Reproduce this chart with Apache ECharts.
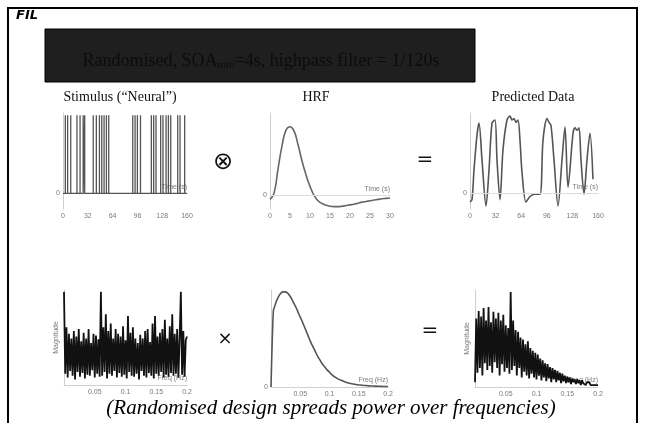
<!DOCTYPE html>
<html>
<head>
<meta charset="utf-8">
<script src="https://cdn.jsdelivr.net/npm/echarts@6/dist/echarts.min.js"></script>
<style>
html, body { margin: 0; padding: 0; background: #fff; }
#chart { width: 645px; height: 423px; }
</style>
</head>
<body>
<div id="chart"></div>
<script>
// stimulus onsets (s)
const spikeTimes = [3, 6, 10, 18, 22, 26, 28, 39, 43, 47, 50, 53, 56, 59, 90, 93, 96, 100, 114, 117, 120, 126, 129, 133, 136, 139, 148, 151, 157]

// HRF, 1 s steps
const hrfTimes = [0, 1, 2, 3, 4, 5, 6, 7, 8, 9, 10, 11, 12, 13, 14, 15, 16, 17, 18, 19, 20, 21, 22, 23, 24, 25, 26, 27, 28, 29, 30]
const hrfValues = [-0.06, 0.03, 0.38, 0.72, 0.95, 1.0, 0.94, 0.74, 0.5, 0.3, 0.13, 0.0, -0.08, -0.12, -0.145, -0.16, -0.165, -0.165, -0.16, -0.15, -0.14, -0.13, -0.115, -0.1, -0.09, -0.08, -0.07, -0.06, -0.05, -0.045, -0.04]

// predicted data
const predTimes = [0, 2.5, 5, 8.75, 11.25, 15, 20, 23.75, 27.5, 31.25, 33.75, 37.5, 41.25, 46.25, 50, 52.5, 55, 57.5, 60, 62.5, 65, 70, 75, 81.25, 87.5, 91.25, 96.25, 98.75, 101.25, 105, 110, 115, 118.75, 122.5, 128.75, 131.25, 133.75, 136.25, 138.75, 142.5, 146.25, 150, 153.75]
const predValues = [-0.11, -0.08, 0.3, 0.75, 0.9, 0.43, -0.16, 0.3, 0.9, 0.94, 0.43, -0.08, 0.56, 0.94, 0.99, 0.94, 0.96, 0.91, 0.94, 0.68, 0.27, -0.11, -0.04, -0.01, -0.01, 0.68, 0.96, 0.91, 0.87, 0.43, -0.16, 0.43, 0.85, 0.08, 0.77, 0.84, 0.81, 0.84, 0.43, -0.01, 0.43, 0.77, 0.18]

// spectra (magnitude), frequency step in Hz
const specStep = 0.002
const stimSpectrum = [
  1.0, 0.12, 0.62, 0.08, 0.55, 0.15, 0.5, 0.1, 0.58, 0.06,
  0.52, 0.14, 0.6, 0.09, 0.47, 0.13, 0.56, 0.07, 0.5, 0.11,
  0.6, 0.1, 0.45, 0.16, 0.55, 0.08, 0.53, 0.12, 0.49, 0.09,
  1.0, 0.1, 0.62, 0.14, 0.76, 0.07, 0.58, 0.12, 0.66, 0.1,
  0.5, 0.15, 0.6, 0.08, 0.55, 0.13, 0.52, 0.09, 0.63, 0.11,
  0.48, 0.07, 0.74, 0.14, 0.56, 0.1, 0.62, 0.09, 0.5, 0.12,
  0.45, 0.06, 0.54, 0.15, 0.5, 0.1, 0.58, 0.08, 0.6, 0.13,
  0.46, 0.1, 0.66, 0.07, 0.74, 0.12, 0.52, 0.1, 0.56, 0.14,
  0.6, 0.08, 0.7, 0.11, 0.5, 0.09, 0.63, 0.13, 0.76, 0.1,
  0.55, 0.12, 0.6, 0.08, 0.5, 1.0, 0.11, 0.58, 0.09, 0.48,
  0.52
]
const predSpectrum = [
  0.05, 0.72, 0.15, 0.8, 0.2, 0.74, 0.12, 0.83, 0.25, 0.7,
  0.18, 0.84, 0.22, 0.68, 0.15, 0.79, 0.26, 0.72, 0.2, 0.78,
  0.12, 0.7, 0.24, 0.76, 0.16, 0.65, 0.2, 0.62, 0.14, 1.0,
  0.18, 0.7, 0.22, 0.6, 0.12, 0.58, 0.2, 0.52, 0.1, 0.5,
  0.16, 0.45, 0.12, 0.48, 0.09, 0.41, 0.14, 0.38, 0.1, 0.36,
  0.08, 0.34, 0.12, 0.3, 0.07, 0.28, 0.1, 0.25, 0.06, 0.24,
  0.09, 0.21, 0.05, 0.2, 0.08, 0.18, 0.05, 0.17, 0.07, 0.15,
  0.04, 0.14, 0.06, 0.12, 0.04, 0.11, 0.05, 0.1, 0.03, 0.09,
  0.05, 0.08, 0.03, 0.08, 0.04, 0.07, 0.02, 0.07, 0.04, 0.06,
  0.02, 0.05, 0.03, 0.05, 0.02, 0.04, 0.02, 0.04, 0.02, 0.03,
  0.02
]
const hrfSpecStep = 0.004
const hrfSpectrum = [
  0, 0.8, 0.88, 0.94, 0.98, 1.0, 1.0, 0.99, 0.96, 0.92,
  0.87, 0.82, 0.76, 0.71, 0.65, 0.59, 0.53, 0.47, 0.42, 0.37,
  0.32, 0.28, 0.24, 0.21, 0.18, 0.155, 0.13, 0.11, 0.095, 0.08,
  0.07, 0.06, 0.05, 0.043, 0.037, 0.032, 0.028, 0.024, 0.021, 0.018,
  0.016, 0.014, 0.012, 0.011, 0.01, 0.009, 0.008, 0.007, 0.006, 0.006,
  0.005
]

const timeInterval = 32
const hrfInterval = 5
const freqInterval = 0.05

const axisGray = '#cfcfcf'
const tickColor = '#7a7a7a'
const sans = '"Liberation Sans", Arial, sans-serif'
const serif = '"Liberation Serif", "Times New Roman", serif'

const pairs = (xs, ys) => xs.map((x, i) => [x, ys[i]])
const stepped = (ys, step) => ys.map((y, i) => [+(i * step).toFixed(4), y])

// stick function for the stimulus
let stimLine = [[0, 0]]
spikeTimes.forEach(t => { stimLine.push([t, 0], [t, 1], [t, 0]) })
stimLine.push([160, 0])

const xAx = (gridIndex, max, interval, name, hideZero) => ({
  type: 'value', gridIndex, min: 0, max, interval,
  name, nameLocation: 'end', nameGap: 0,
  nameTextStyle: { color: tickColor, fontSize: 7, fontFamily: sans, align: 'right', verticalAlign: 'bottom', padding: [0, 0, 3, 0] },
  axisLine: { show: true, lineStyle: { color: axisGray } },
  axisTick: { show: false },
  splitLine: { show: false },
  axisLabel: {
    color: tickColor, fontSize: 7, fontFamily: sans, margin: 4,
    formatter: v => (hideZero && Math.abs(v) < 1e-9) ? '' : String(+v.toFixed(2))
  }
})

const yAx = (gridIndex, min, max, interval, zeroLabel, name) => ({
  type: 'value', gridIndex, min, max, interval,
  name: name || '', nameLocation: 'middle', nameGap: 4, nameRotate: 90,
  nameTextStyle: { color: tickColor, fontSize: 7, fontFamily: sans },
  axisLine: { show: true, lineStyle: { color: axisGray } },
  axisTick: { show: false },
  splitLine: { show: false },
  axisLabel: {
    show: zeroLabel, color: tickColor, fontSize: 7, fontFamily: sans, margin: 3,
    formatter: v => Math.abs(v) < 1e-9 ? '0' : ''
  }
})

const zeroLine = {
  silent: true, symbol: 'none', label: { show: false },
  lineStyle: { color: '#dcdcdc', type: 'solid', width: 1 },
  data: [{ yAxis: 0 }]
}

const txt = (x, y, text, font, fill, align) => ({
  type: 'text', x, y, silent: true,
  style: { text, font, fill: fill || '#000', align: align || 'center', verticalAlign: 'middle', textAlign: align || 'center', textVerticalAlign: 'middle' }
})

const chart = echarts.init(document.getElementById('chart'))
chart.setOption({
  animation: false,
  backgroundColor: '#fff',
  grid: [
    { left: 63, top: 113, width: 124, height: 96 },
    { left: 270, top: 113, width: 120, height: 96 },
    { left: 470, top: 113, width: 128, height: 96 },
    { left: 64, top: 290, width: 123, height: 95 },
    { left: 271, top: 290, width: 117, height: 97 },
    { left: 475, top: 290, width: 123, height: 97 }
  ],
  xAxis: [
    xAx(0, 160, timeInterval, 'Time (s)', false),
    xAx(1, 30, hrfInterval, 'Time (s)', false),
    xAx(2, 160, timeInterval, 'Time (s)', false),
    xAx(3, 0.2, freqInterval, 'Freq (Hz)', true),
    xAx(4, 0.2, freqInterval, 'Freq (Hz)', true),
    xAx(5, 0.2, freqInterval, 'Freq (Hz)', true)
  ],
  yAxis: [
    yAx(0, -0.2, 1.03, 0.2, true),
    yAx(1, -0.2, 1.2, 0.2, true),
    yAx(2, -0.2, 1.03, 0.2, true),
    yAx(3, 0, 1.02, 0.5, false, 'Magnitude'),
    yAx(4, 0, 1.02, 0.5, true),
    yAx(5, 0, 1.02, 0.5, false, 'Magnitude')
  ],
  series: [
    {
      type: 'line', xAxisIndex: 0, yAxisIndex: 0, data: stimLine, showSymbol: false,
      lineStyle: { color: '#555', width: 1.3 }
    },
    {
      type: 'line', xAxisIndex: 1, yAxisIndex: 1, data: pairs(hrfTimes, hrfValues), showSymbol: false, smooth: true,
      lineStyle: { color: '#666', width: 1.6 }, markLine: zeroLine
    },
    {
      type: 'line', xAxisIndex: 2, yAxisIndex: 2, data: pairs(predTimes, predValues), showSymbol: false, smooth: 0.3,
      lineStyle: { color: '#555', width: 1.6 }, markLine: zeroLine
    },
    {
      type: 'line', xAxisIndex: 3, yAxisIndex: 3, data: stepped(stimSpectrum, specStep), showSymbol: false,
      lineStyle: { color: '#111', width: 1.8 }
    },
    {
      type: 'line', xAxisIndex: 4, yAxisIndex: 4, data: stepped(hrfSpectrum, hrfSpecStep), showSymbol: false, smooth: 0.2,
      lineStyle: { color: '#555', width: 1.6 }
    },
    {
      type: 'line', xAxisIndex: 5, yAxisIndex: 5, data: stepped(predSpectrum, specStep), showSymbol: false,
      lineStyle: { color: '#111', width: 1.8 }
    }
  ],
  graphic: [
    { type: 'rect', silent: true, shape: { x: 8, y: 8, width: 629, height: 440 }, style: { fill: 'none', stroke: '#000', lineWidth: 2 } },
    txt(27, 16, 'FIL', 'italic 900 13px "DejaVu Sans"', '#000'),
    { type: 'rect', silent: true, shape: { x: 45, y: 29, width: 430, height: 53 }, style: { fill: '#1f1f1f', stroke: '#000', lineWidth: 1 } },
    {
      type: 'text', x: 261, y: 61, silent: true,
      style: {
        text: '{a|Randomised, SOA}{b|min}{a|=4s, highpass filter = 1/120s}',
        align: 'center', verticalAlign: 'middle', textAlign: 'center', textVerticalAlign: 'middle',
        rich: {
          a: { fontSize: 18, fontFamily: serif, fill: '#0c0c0c', color: '#0c0c0c', lineHeight: 22 },
          b: { fontSize: 11, fontFamily: serif, fill: '#0c0c0c', color: '#0c0c0c', lineHeight: 22, padding: [9, 0, 0, 0] }
        }
      }
    },
    txt(120, 97, 'Stimulus (\u201cNeural\u201d)', '14px ' + serif, '#111'),
    txt(316, 97, 'HRF', '14px ' + serif, '#111'),
    txt(533, 97, 'Predicted Data', '14px ' + serif, '#111'),
    txt(223, 163, '\u2297', '24px "DejaVu Sans"', '#111'),
    txt(425, 160, '=', '20px "DejaVu Sans"', '#111'),
    txt(225, 339, '\u00d7', '18px "DejaVu Sans"', '#111'),
    txt(430, 331, '=', '20px "DejaVu Sans"', '#111'),
    txt(331, 408, '(Randomised design spreads power over frequencies)', 'italic 21px ' + serif, '#000')
  ]
})
</script>
</body>
</html>
